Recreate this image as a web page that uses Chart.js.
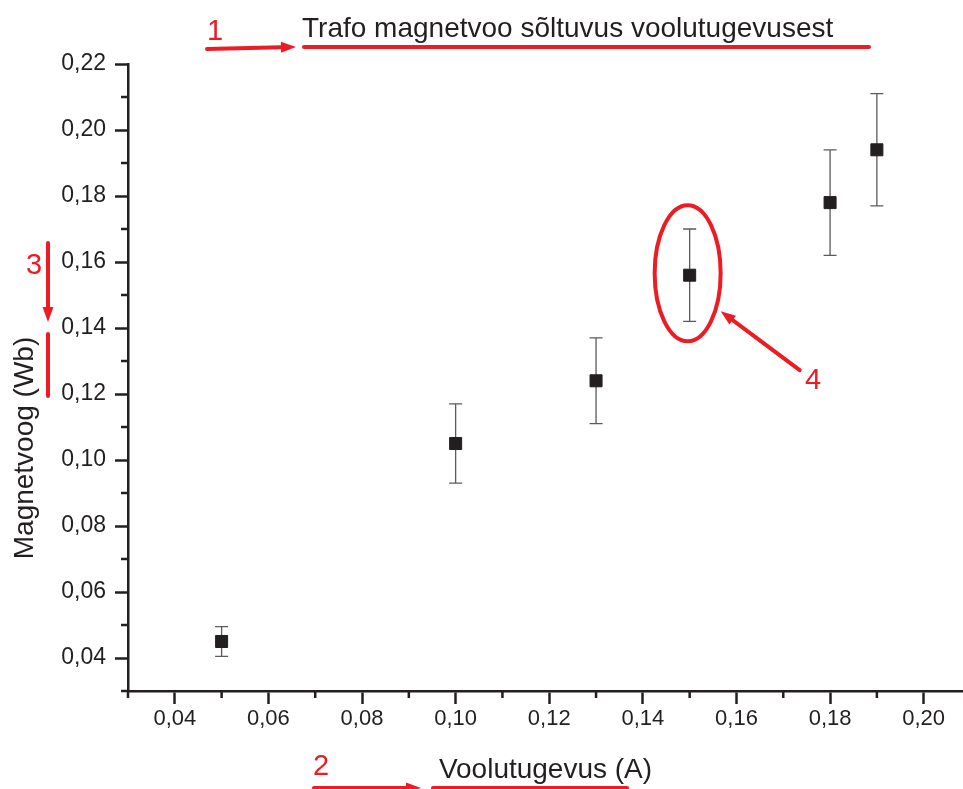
<!DOCTYPE html>
<html>
<head>
<meta charset="utf-8">
<title>Trafo magnetvoo sõltuvus voolutugevusest</title>
<script src="https://cdn.jsdelivr.net/npm/chart.js@4.4.1/dist/chart.umd.min.js"></script>
<style>
  html, body { margin: 0; padding: 0; background: #fff; }
  #wrap { width: 963px; height: 789px; }
</style>
</head>
<body>
<div id="wrap"><canvas id="fluxChart"></canvas></div>
<script>
// mõõtmised
const current = [0.05, 0.10, 0.13, 0.15, 0.18, 0.19];
const flux = [0.045, 0.105, 0.124, 0.156, 0.178, 0.194];
const fluxError = [0.0045, 0.012, 0.013, 0.014, 0.016, 0.017];

// teljed
const xMajorTicks = [0.04, 0.06, 0.08, 0.10, 0.12, 0.14, 0.16, 0.18, 0.20];
const xMinorTicks = [0.03, 0.05, 0.07, 0.09, 0.11, 0.13, 0.15, 0.17, 0.19];
const yMajorTicks = [0.04, 0.06, 0.08, 0.10, 0.12, 0.14, 0.16, 0.18, 0.20, 0.22];
const yMinorTicks = [0.03, 0.05, 0.07, 0.09, 0.11, 0.13, 0.15, 0.17, 0.19, 0.21];

const titleText = 'Trafo magnetvoo sõltuvus voolutugevusest';
const xTitle = 'Voolutugevus (A)';
const yTitle = 'Magnetvoog (Wb)';

const ink = '#231f20';
const red = '#ed1c24';
const font = '"Liberation Sans", Arial, sans-serif';

function fmt(v) {
    return v.toFixed(2).replace('.', ',');
}

function arrow(ctx, x1, y1, x2, y2) {
    const a = Math.atan2(y2 - y1, x2 - x1);
    const head = 15, half = 5.5;
    const bx = x2 - head * Math.cos(a), by = y2 - head * Math.sin(a);
    ctx.beginPath();
    ctx.moveTo(x1, y1);
    ctx.lineTo(bx, by);
    ctx.stroke();
    ctx.beginPath();
    ctx.moveTo(x2, y2);
    ctx.lineTo(bx + half * Math.sin(a), by - half * Math.cos(a));
    ctx.lineTo(bx - half * Math.sin(a), by + half * Math.cos(a));
    ctx.closePath();
    ctx.fill();
}

// ei taha et Chart.js sildi jaoks ruumi juurde võtaks
function noPadding(s) {
    s.paddingLeft = 0;
    s.paddingRight = 0;
    s.paddingTop = 0;
    s.paddingBottom = 0;
}

// vearibad andmepunktide alla
const errorBars = {
    id: 'errorBars',
    beforeDatasetsDraw(chart) {
        const { ctx, scales: { x, y } } = chart;
        ctx.save();
        ctx.strokeStyle = '#5b5b5b';
        ctx.lineWidth = 1.3;
        current.forEach((c, i) => {
            const px = x.getPixelForValue(c);
            const top = y.getPixelForValue(flux[i] + fluxError[i]);
            const bot = y.getPixelForValue(flux[i] - fluxError[i]);
            ctx.beginPath();
            ctx.moveTo(px, top); ctx.lineTo(px, bot);
            ctx.moveTo(px - 6.5, top); ctx.lineTo(px + 6.5, top);
            ctx.moveTo(px - 6.5, bot); ctx.lineTo(px + 6.5, bot);
            ctx.stroke();
        });
        ctx.restore();
    }
};

// väiksed jaotised, pealkirjad ja punased märkused
const extras = {
    id: 'extras',
    afterDraw(chart) {
        const { ctx, chartArea: ca, scales: { x, y } } = chart;
        ctx.save();

        ctx.strokeStyle = ink;
        ctx.lineWidth = 2.5;
        ctx.beginPath();
        xMinorTicks.forEach(v => {
            const px = x.getPixelForValue(v);
            ctx.moveTo(px, ca.bottom);
            ctx.lineTo(px, ca.bottom + 7);
        });
        yMinorTicks.forEach(v => {
            const py = y.getPixelForValue(v);
            ctx.moveTo(ca.left, py);
            ctx.lineTo(ca.left - 7, py);
        });
        ctx.stroke();

        ctx.fillStyle = ink;
        ctx.font = '28px ' + font;
        ctx.textBaseline = 'alphabetic';
        ctx.textAlign = 'left';
        ctx.fillText(titleText, 302, 37);

        ctx.save();
        ctx.translate(33, 448);
        ctx.rotate(-Math.PI / 2);
        ctx.textAlign = 'center';
        ctx.fillText(yTitle, 0, 0);
        ctx.restore();

        // punane
        ctx.strokeStyle = red;
        ctx.fillStyle = red;
        ctx.lineCap = 'round';
        ctx.lineWidth = 4;
        ctx.font = '29px ' + font;
        ctx.textAlign = 'center';
        ctx.fillText('1', 215, 40);
        ctx.fillText('2', 321, 775);
        ctx.fillText('3', 34, 274);
        ctx.fillText('4', 813, 389);

        arrow(ctx, 207, 49, 296, 47);
        ctx.beginPath();
        ctx.moveTo(304, 47); ctx.lineTo(869, 47);
        ctx.stroke();

        arrow(ctx, 314, 788, 421, 788);
        ctx.beginPath();
        ctx.moveTo(433, 788); ctx.lineTo(627, 788);
        ctx.stroke();

        arrow(ctx, 48, 243, 48, 322);
        ctx.beginPath();
        ctx.moveTo(48, 334); ctx.lineTo(48, 396);
        ctx.stroke();

        const px = x.getPixelForValue(current[3]);
        const py = y.getPixelForValue(flux[3]);
        ctx.beginPath();
        ctx.ellipse(px - 2, py - 2, 33, 68, 0, 0, Math.PI * 2);
        ctx.stroke();
        arrow(ctx, px + 110, py + 95, px + 31, py + 36);

        ctx.restore();
    }
};

const ctx = document.getElementById('fluxChart').getContext('2d');
const fluxChart = new Chart(ctx, {
    type: 'scatter',
    data: {
        datasets: [{
            label: yTitle,
            data: current.map((c, i) => ({ x: c, y: flux[i] })),
            pointStyle: 'rect',
            pointRadius: 8.5,
            pointHoverRadius: 8.5,
            backgroundColor: ink,
            borderColor: ink,
            borderWidth: 1
        }]
    },
    options: {
        responsive: true,
        maintainAspectRatio: false,
        animation: false,
        layout: { autoPadding: false, padding: { top: 64, left: 0, right: 0, bottom: 0 } },
        plugins: {
            legend: { display: false },
            title: { display: false },
            tooltip: { enabled: false }
        },
        scales: {
            x: {
                type: 'linear',
                position: 'bottom',
                min: 0.03,
                max: 0.2084,
                afterBuildTicks: s => { s.ticks = xMajorTicks.map(v => ({ value: v })); },
                afterFit: s => { s.height = 98; noPadding(s); },
                grid: { drawOnChartArea: false, drawTicks: true, tickLength: 13, tickWidth: 2.5, tickColor: ink },
                border: { display: true, color: ink, width: 2.5 },
                ticks: {
                    callback: v => fmt(v),
                    color: ink,
                    font: { family: font, size: 22 },
                    padding: 2,
                    maxRotation: 0,
                    autoSkip: false
                },
                title: {
                    display: true,
                    text: xTitle,
                    color: ink,
                    font: { family: font, size: 28 },
                    padding: { top: 0, bottom: 2 }
                }
            },
            y: {
                type: 'linear',
                min: 0.03,
                max: 0.22,
                afterBuildTicks: s => { s.ticks = yMajorTicks.map(v => ({ value: v })); },
                afterFit: s => { s.width = 128; noPadding(s); },
                grid: { drawOnChartArea: false, drawTicks: true, tickLength: 13, tickWidth: 2.5, tickColor: ink },
                border: { display: true, color: ink, width: 2.5 },
                ticks: {
                    callback: v => fmt(v),
                    color: ink,
                    font: { family: font, size: 23 },
                    padding: 9,
                    autoSkip: false
                }
            }
        }
    },
    plugins: [errorBars, extras]
});
</script>
</body>
</html>
